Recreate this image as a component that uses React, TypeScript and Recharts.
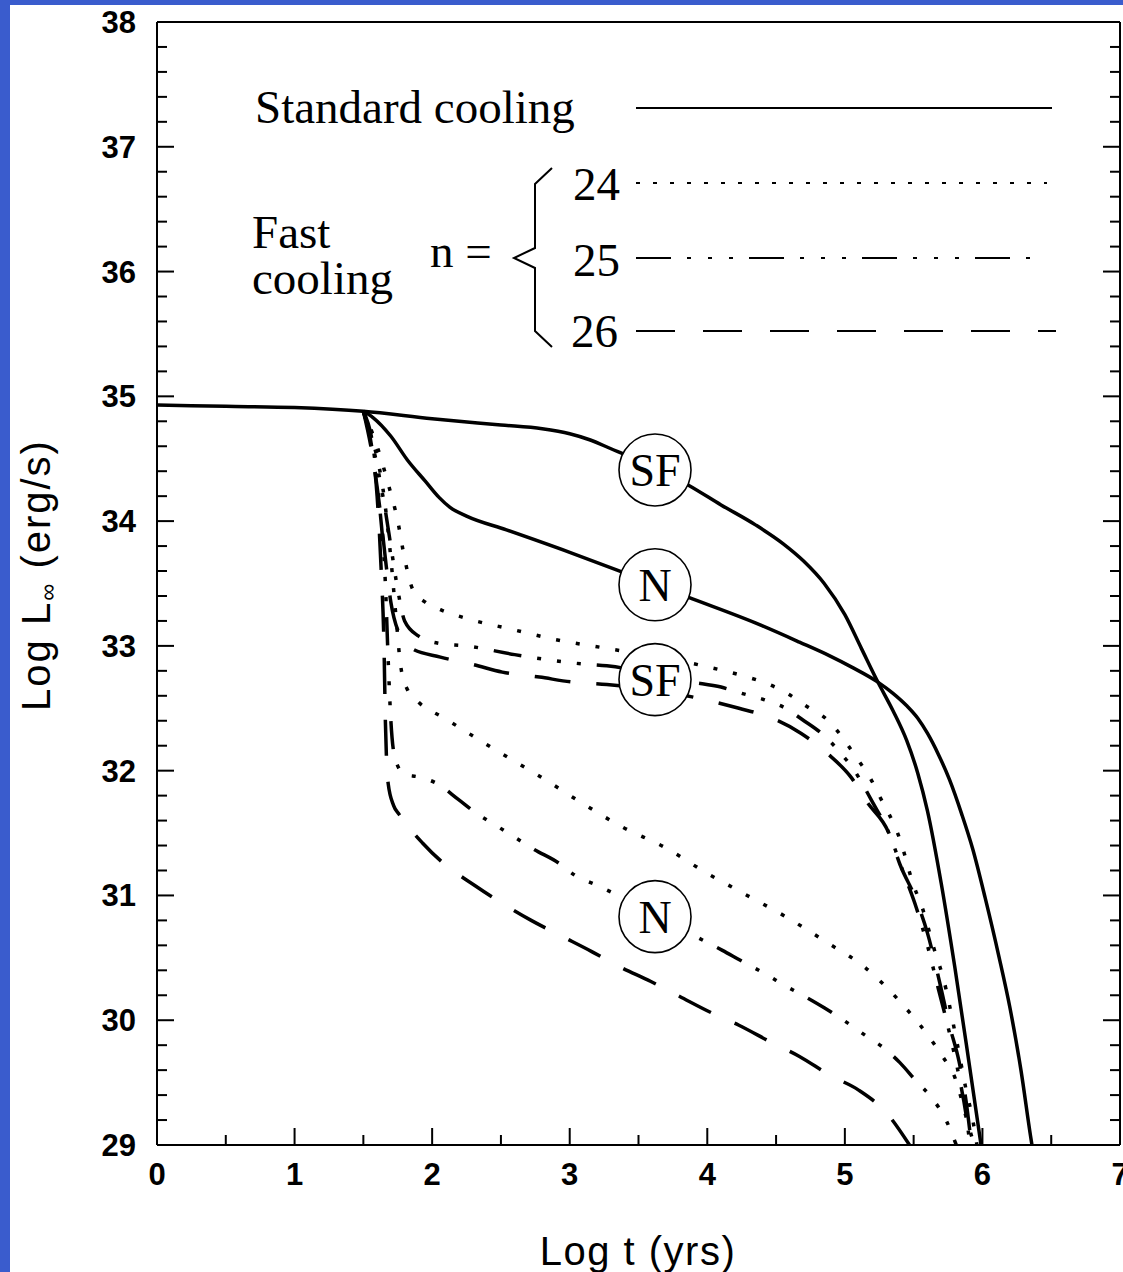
import { LineChart, Line, XAxis, YAxis, ReferenceDot } from 'recharts'

// axis ticks
const X_MAJOR = [0, 1, 2, 3, 4, 5, 6, 7]
const Y_MAJOR = [29, 30, 31, 32, 33, 34, 35, 36, 37, 38]
const X_TICKS = Array.from({ length: 15 }, (_, i) => i * 0.5)
const Y_TICKS = Array.from({ length: 46 }, (_, i) => Math.round((29 + i * 0.2) * 10) / 10)

// standard cooling (solid)
const stdSF: [number, number][] = [
  [0, 34.93], [0.5, 34.92], [1, 34.91], [1.5, 34.88], [2, 34.82], [2.5, 34.77],
  [2.8, 34.74], [3.0, 34.7], [3.15, 34.65], [3.3, 34.58], [3.45, 34.51], [3.65, 34.41],
  [3.86, 34.29], [4.1, 34.13], [4.35, 33.97], [4.55, 33.82], [4.7, 33.68], [4.85, 33.5],
  [5.0, 33.25], [5.12, 32.98], [5.24, 32.71], [5.35, 32.48], [5.45, 32.24], [5.53, 31.98],
  [5.6, 31.68], [5.7, 31.1], [5.8, 30.42], [5.9, 29.68], [5.97, 29.15], [5.99, 29.0],
]
const stdN: [number, number][] = [
  [1.5, 34.88], [1.57, 34.83], [1.7, 34.68], [1.82, 34.49], [1.95, 34.32], [2.05, 34.19],
  [2.13, 34.11], [2.25, 34.04], [2.54, 33.93], [3.0, 33.75], [3.34, 33.61], [3.86, 33.39],
  [4.38, 33.17], [4.67, 33.03], [4.89, 32.92], [5.05, 32.83], [5.24, 32.71], [5.35, 32.62],
  [5.45, 32.52], [5.53, 32.42], [5.6, 32.3], [5.68, 32.13], [5.76, 31.93], [5.85, 31.65],
  [5.93, 31.37], [6.02, 30.98], [6.12, 30.51], [6.2, 30.1], [6.28, 29.6], [6.35, 29.07],
  [6.36, 29.0],
]

// fast cooling, superfluid (SF), n = 24 / 25 / 26
const fastSF24: [number, number][] = [
  [1.5, 34.88], [1.6, 34.6], [1.68, 34.3], [1.75, 34.0], [1.8, 33.7], [1.86, 33.45],
  [1.95, 33.35], [2.06, 33.29], [2.25, 33.22], [2.59, 33.13], [2.9, 33.05], [3.27, 32.98],
  [3.93, 32.85], [4.26, 32.76], [4.43, 32.7], [4.58, 32.62], [4.73, 32.51], [4.87, 32.41],
  [4.98, 32.27], [5.08, 32.11], [5.18, 31.95], [5.25, 31.8], [5.4, 31.45], [5.5, 31.08],
  [5.56, 30.91], [5.66, 30.53], [5.71, 30.36], [5.81, 29.85], [5.88, 29.45], [5.93, 29.2],
  [5.96, 29.0],
]
const fastSF25: [number, number][] = [
  [1.5, 34.88], [1.58, 34.55], [1.65, 34.15], [1.7, 33.8], [1.75, 33.45], [1.8, 33.2],
  [1.9, 33.08], [2.05, 33.02], [2.25, 33.0], [2.6, 32.93], [3.05, 32.86], [3.27, 32.84],
  [3.89, 32.71], [4.1, 32.67], [4.25, 32.62], [4.41, 32.57], [4.57, 32.5], [4.69, 32.41],
  [4.86, 32.27], [4.97, 32.14], [5.07, 32.0], [5.2, 31.75], [5.32, 31.5], [5.42, 31.2],
  [5.52, 30.9], [5.6, 30.6], [5.68, 30.25], [5.76, 29.9], [5.83, 29.55], [5.88, 29.25],
  [5.91, 29.0],
]
const fastSF26: [number, number][] = [
  [1.5, 34.88], [1.57, 34.5], [1.62, 34.1], [1.66, 33.7], [1.7, 33.35], [1.76, 33.1],
  [1.85, 32.98], [2.06, 32.91], [2.3, 32.85], [2.51, 32.79], [2.78, 32.75], [3.02, 32.71],
  [3.27, 32.69], [3.98, 32.57], [4.23, 32.5], [4.45, 32.43], [4.68, 32.3], [4.87, 32.14],
  [5.05, 31.94], [5.16, 31.75], [5.32, 31.5], [5.4, 31.25], [5.52, 30.96], [5.6, 30.7],
  [5.69, 30.3], [5.76, 29.96], [5.83, 29.67], [5.88, 29.36], [5.92, 29.0],
]

// fast cooling, normal (N), n = 24 / 25 / 26
const fastN24: [number, number][] = [
  [1.5, 34.88], [1.58, 34.6], [1.65, 34.2], [1.7, 33.7], [1.74, 33.2], [1.77, 32.85],
  [1.82, 32.65], [1.9, 32.55], [2.09, 32.42], [2.5, 32.14], [2.79, 31.95], [3.09, 31.74],
  [3.38, 31.55], [3.7, 31.38], [3.98, 31.19], [4.29, 31.0], [4.57, 30.83], [4.86, 30.63],
  [5.15, 30.42], [5.4, 30.15], [5.61, 29.87], [5.71, 29.71], [5.8, 29.54], [5.9, 29.15],
  [5.94, 29.0],
]
const fastN25: [number, number][] = [
  [1.5, 34.88], [1.57, 34.6], [1.62, 34.1], [1.66, 33.5], [1.68, 32.9], [1.7, 32.4],
  [1.73, 32.1], [1.8, 31.97], [1.9, 31.95], [2.03, 31.9], [2.19, 31.77], [2.32, 31.66],
  [2.48, 31.55], [2.61, 31.46], [2.74, 31.37], [2.92, 31.26], [3.04, 31.16], [3.2, 31.08],
  [3.97, 30.64], [4.11, 30.56], [4.24, 30.48], [4.44, 30.36], [4.56, 30.28], [4.71, 30.19],
  [4.85, 30.1], [4.99, 30.0], [5.16, 29.87], [5.28, 29.78], [5.4, 29.66], [5.52, 29.51],
  [5.63, 29.38], [5.74, 29.19], [5.81, 29.0],
]
const fastN26: [number, number][] = [
  [1.5, 34.88], [1.56, 34.6], [1.6, 34.2], [1.63, 33.6], [1.65, 33.0], [1.66, 32.4],
  [1.68, 31.9], [1.72, 31.72], [1.76, 31.65], [1.93, 31.42], [2.08, 31.26], [2.31, 31.08],
  [2.49, 30.95], [2.72, 30.8], [2.93, 30.68], [3.16, 30.55], [3.36, 30.43], [3.59, 30.31],
  [3.8, 30.19], [4.03, 30.06], [4.23, 29.96], [4.47, 29.82], [4.67, 29.71], [4.89, 29.56],
  [5.1, 29.44], [5.3, 29.26], [5.47, 29.0],
]

const DOT = '4 16'
const DASHDOT = '28 16 4 16 4 16 4 16'
const DASH = '36 26'

const series = [
  { name: 'std-SF', pts: stdSF, dash: undefined },
  { name: 'std-N', pts: stdN, dash: undefined },
  { name: 'SF-24', pts: fastSF24, dash: DOT },
  { name: 'SF-25', pts: fastSF25, dash: DASHDOT },
  { name: 'SF-26', pts: fastSF26, dash: DASH },
  { name: 'N-24', pts: fastN24, dash: DOT },
  { name: 'N-25', pts: fastN25, dash: DASHDOT },
  { name: 'N-26', pts: fastN26, dash: DASH },
]

const circleLabels = [
  { text: 'SF', x: 3.62, y: 34.41 },
  { text: 'N', x: 3.62, y: 33.49 },
  { text: 'SF', x: 3.62, y: 32.73 },
  { text: 'N', x: 3.62, y: 30.83 },
]

const SANS = '"Liberation Sans", Arial, sans-serif'
const SERIF = '"Liberation Serif", "Times New Roman", serif'

const isMajor = (v: number, majors: number[]) => majors.some((m) => Math.abs(m - v) < 1e-6)

function makeTick(side: 'bottom' | 'top' | 'left' | 'right', majors: number[], showLabel: boolean) {
  return (props: any) => {
    const { x, y, payload } = props
    const v = payload.value
    const major = isMajor(v, majors)
    const len = major ? 17 : 10
    let line
    if (side === 'bottom') line = <line x1={x} y1={y} x2={x} y2={y - len} stroke="#000" strokeWidth={2} />
    else if (side === 'top') line = <line x1={x} y1={y} x2={x} y2={y + len} stroke="#000" strokeWidth={2} />
    else if (side === 'left') line = <line x1={x} y1={y} x2={x + len} y2={y} stroke="#000" strokeWidth={2} />
    else line = <line x1={x} y1={y} x2={x - len} y2={y} stroke="#000" strokeWidth={2} />
    let label = null
    if (showLabel && major) {
      if (side === 'bottom')
        label = (
          <text x={x} y={y + 40} textAnchor="middle" fontFamily={SANS} fontWeight="bold" fontSize={31} fill="#000">
            {v}
          </text>
        )
      else
        label = (
          <text x={x - 21} y={y + 11} textAnchor="end" fontFamily={SANS} fontWeight="bold" fontSize={31} fill="#000">
            {v}
          </text>
        )
    }
    return (
      <g>
        {line}
        {label}
      </g>
    )
  }
}

const CircleLabel = (text: string) => (props: any) => {
  const { cx, cy } = props
  return (
    <g>
      <circle cx={cx} cy={cy} r={36} fill="#fff" stroke="#000" strokeWidth={1.6} />
      <text x={cx} y={cy + 16} textAnchor="middle" fontFamily={SERIF} fontSize={46} fill="#000">
        {text}
      </text>
    </g>
  )
}

function Legend() {
  const t = { fontFamily: SERIF, fontSize: 47, fill: '#000' }
  return (
    <svg width={1123} height={1272} style={{ position: 'absolute', left: 0, top: 0, pointerEvents: 'none' }}>
      <text x={255} y={123} {...t}>Standard cooling</text>
      <line x1={636} x2={1052} y1={108} y2={108} stroke="#000" strokeWidth={2} />
      <text {...t}>
        <tspan x={252} y={248}>Fast</tspan>
        <tspan x={252} y={294}>cooling</tspan>
      </text>
      <text x={430} y={267} {...t}>n =</text>
      <path d="M552 168 L535 184 L535 248 L514 258 L535 268 L535 331 L552 347" fill="none" stroke="#000" strokeWidth={2} />
      <text x={573} y={200} {...t}>24</text>
      <text x={573} y={276} {...t}>25</text>
      <text x={571} y={347} {...t}>26</text>
      <line x1={636} x2={1047} y1={183} y2={183} stroke="#000" strokeWidth={2} strokeDasharray="4 13" />
      <line x1={636} x2={1047} y1={258} y2={258} stroke="#000" strokeWidth={2} strokeDasharray="35 16 4 17 4 17 4 16" />
      <line x1={636} x2={1056} y1={331} y2={331} stroke="#000" strokeWidth={2} strokeDasharray="39 28" />
      <text x={638} y={1265} textAnchor="middle" fontFamily={SANS} fontSize={40} letterSpacing={1.5} fill="#000">
        Log t (yrs)
      </text>
      <text
        x={50}
        y={575}
        transform="rotate(-90 50 575)"
        textAnchor="middle"
        fontFamily={SANS}
        fontSize={40}
        letterSpacing={2}
        fill="#000"
      >
        Log L<tspan fontSize={24} dy={6}>∞</tspan>
        <tspan dy={-6}> (erg/s)</tspan>
      </text>
    </svg>
  )
}

export default function App() {
  return (
    <div style={{ position: 'absolute', left: 0, top: 0, width: 1123, height: 1272, background: '#3a5ccd', overflow: 'hidden' }}>
      <div style={{ position: 'absolute', left: 10, top: 5, width: 1113, height: 1267, background: '#fff' }} />
      <div style={{ position: 'absolute', left: 0, top: 0 }}>
        <LineChart width={1123} height={1272} margin={{ top: 0, right: 0, bottom: 0, left: 0 }}>
          <XAxis
            type="number"
            dataKey="x"
            domain={[0, 7]}
            ticks={X_TICKS}
            interval={0}
            height={127}
            tickSize={0}
            tickMargin={0}
            tickLine={false}
            axisLine={{ stroke: '#000', strokeWidth: 2 }}
            tick={makeTick('bottom', X_MAJOR, true)}
            allowDataOverflow
          />
          <XAxis
            xAxisId="top"
            orientation="top"
            type="number"
            domain={[0, 7]}
            ticks={X_TICKS}
            interval={0}
            height={22}
            tickSize={0}
            tickMargin={0}
            tickLine={false}
            axisLine={{ stroke: '#000', strokeWidth: 2 }}
            tick={makeTick('top', X_MAJOR, false)}
            allowDataOverflow
          />
          <YAxis
            type="number"
            domain={[29, 38]}
            ticks={Y_TICKS}
            interval={0}
            width={157}
            tickSize={0}
            tickMargin={0}
            tickLine={false}
            axisLine={{ stroke: '#000', strokeWidth: 2 }}
            tick={makeTick('left', Y_MAJOR, true)}
            allowDataOverflow
          />
          <YAxis
            yAxisId="right"
            orientation="right"
            type="number"
            domain={[29, 38]}
            ticks={Y_TICKS}
            interval={0}
            width={3}
            tickSize={0}
            tickMargin={0}
            tickLine={false}
            axisLine={{ stroke: '#000', strokeWidth: 2 }}
            tick={makeTick('right', Y_MAJOR, false)}
            allowDataOverflow
          />
          {series.map((s) => (
            <Line
              key={s.name}
              data={s.pts.map(([x, y]) => ({ x, y }))}
              dataKey="y"
              type="monotone"
              stroke="#000"
              strokeWidth={3.5}
              strokeDasharray={s.dash}
              dot={false}
              activeDot={false}
              isAnimationActive={false}
            />
          ))}
          {circleLabels.map((c, i) => (
            <ReferenceDot key={i} x={c.x} y={c.y} r={36} shape={CircleLabel(c.text)} ifOverflow="visible" />
          ))}
        </LineChart>
      </div>
      <Legend />
    </div>
  )
}
